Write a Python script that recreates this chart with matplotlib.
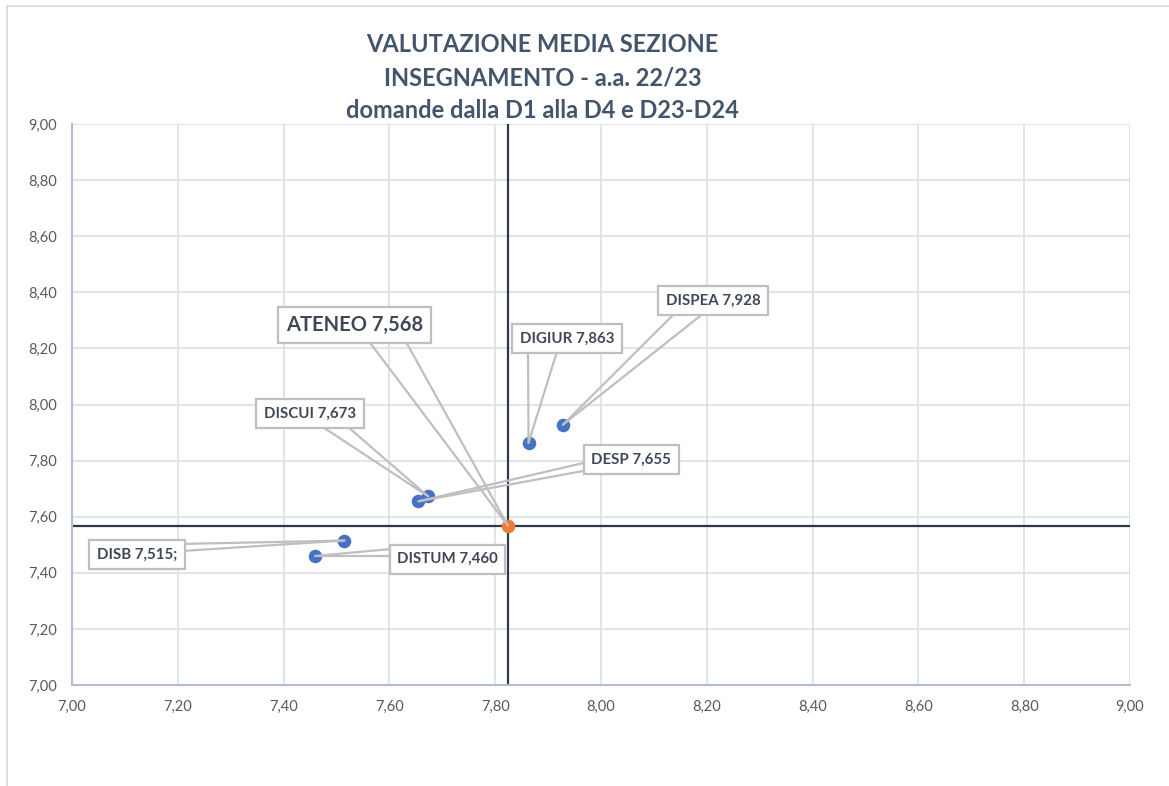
import matplotlib
matplotlib.use("Agg")
import matplotlib.pyplot as plt
from matplotlib.ticker import MultipleLocator, FuncFormatter
from matplotlib.lines import Line2D

plt.rcParams['font.family'] = ['Lato', 'DejaVu Sans']

# Dati: valutazione media per dipartimento (stesso valore su x e y)
dipartimenti = ["DISPEA", "DIGIUR", "DISCUI", "DESP", "DISB", "DISTUM"]
valori = [7.928, 7.863, 7.673, 7.655, 7.515, 7.460]
etichette = ["DISPEA 7,928", "DIGIUR 7,863", "DISCUI 7,673", "DESP 7,655",
             "DISB 7,515;", "DISTUM 7,460"]

ateneo_x = 7.824
ateneo_y = 7.568
ateneo_label = "ATENEO 7,568"

titolo = ["VALUTAZIONE MEDIA SEZIONE",
          "INSEGNAMENTO - a.a. 22/23",
          "domande dalla D1 alla D4 e D23-D24"]

# Layout delle etichette (centro box, due punti d'attacco del richiamo)
pos_etichette = [(8.212, 8.371), (7.936, 8.234), (7.450, 7.968),
                 (8.057, 7.804), (7.123, 7.465), (7.710, 7.449)]
attacchi = [((8.142, 8.330), (8.197, 8.330)),
            ((7.862, 8.190), (7.917, 8.190)),
            ((7.469, 7.926), (7.518, 7.926)),
            ((7.975, 7.795), (7.975, 7.766)),
            ((7.210, 7.503), (7.210, 7.478)),
            ((7.604, 7.485), (7.604, 7.460))]
pos_ateneo = (7.534, 8.283)
attacchi_ateneo = ((7.5595, 8.230), (7.6295, 8.230))

blu = "#4472c4"
arancio = "#ed7d31"
grigio_box = "#bfbfbf"
testo = "#3f4756"

fig = plt.figure(figsize=(11.69, 7.86), dpi=100)
ax = fig.add_axes([72 / 1169, 1 - 685 / 786, (1130 - 72) / 1169, (685 - 124) / 786])

# bordo esterno dell'area grafico
fig.add_artist(Line2D([7 / 1169, 7 / 1169], [0, 1 - 6 / 786], transform=fig.transFigure,
                      color="#d9d9d9", lw=1.2))
fig.add_artist(Line2D([7 / 1169, 1], [1 - 6 / 786, 1 - 6 / 786], transform=fig.transFigure,
                      color="#d9d9d9", lw=1.2))

ax.set_xlim(7, 9)
ax.set_ylim(7, 9)
ax.xaxis.set_major_locator(MultipleLocator(0.2))
ax.yaxis.set_major_locator(MultipleLocator(0.2))
fmt = FuncFormatter(lambda v, p: f"{v:.2f}".replace(".", ","))
ax.xaxis.set_major_formatter(fmt)
ax.yaxis.set_major_formatter(fmt)
ax.grid(True, color="#dde2ea", lw=1.3)
ax.set_axisbelow(True)
for s in ["top", "right"]:
    ax.spines[s].set_visible(False)
for s in ["left", "bottom"]:
    ax.spines[s].set_color("#b4bdcf")
    ax.spines[s].set_linewidth(1.5)
ax.tick_params(length=0, labelsize=10.5, labelcolor="#595959", pad=11)

# linee di riferimento Ateneo
ax.axhline(ateneo_y, color="#2e3a4b", lw=1.6, zorder=2)
ax.axvline(ateneo_x, color="#2e3a4b", lw=1.6, zorder=2)

ax.scatter(valori, valori, s=95, color=blu, zorder=3, linewidths=0)
ax.scatter([ateneo_x], [ateneo_y], s=95, color=arancio, zorder=3, linewidths=0)

box = dict(boxstyle="square,pad=0.5", fc="white", ec=grigio_box, lw=1.6)
for v, lab, p, (a1, a2) in zip(valori, etichette, pos_etichette, attacchi):
    for a in (a1, a2):
        ax.plot([a[0], v], [a[1], v], color=grigio_box, lw=1.6, zorder=4,
                solid_capstyle="round")
    ax.text(p[0], p[1], lab, ha="center", va="center", fontsize=10.8, fontweight="bold",
            color=testo, bbox=box, zorder=5)

for a in attacchi_ateneo:
    ax.plot([a[0], ateneo_x], [a[1], ateneo_y], color=grigio_box, lw=1.6, zorder=4,
            solid_capstyle="round")
ax.text(pos_ateneo[0], pos_ateneo[1], ateneo_label, ha="center", va="center", fontsize=14.5,
        fontweight="bold", color=testo,
        bbox=dict(boxstyle="square,pad=0.38", fc="white", ec=grigio_box, lw=1.6), zorder=5)

for i, riga in enumerate(titolo):
    fig.text(0.464, 1 - (45 + 32.5 * i) / 786, riga, ha="center", va="center",
             fontsize=17, fontweight="bold", color="#44546a")

fig.savefig("out.png", dpi=100)
